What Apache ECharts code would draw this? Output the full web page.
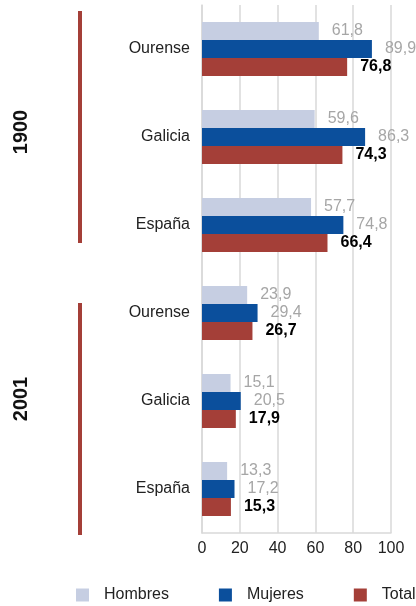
<!DOCTYPE html>
<html>
<head>
<meta charset="utf-8">
<script src="https://cdn.jsdelivr.net/npm/echarts@6/dist/echarts.min.js"></script>
<style>
  html, body { margin: 0; padding: 0; background: #fff; }
  #chart { width: 416px; height: 606px; }
</style>
</head>
<body>
<div id="chart"></div>
<script>
var regions = ["Ourense", "Galicia", "España", "Ourense", "Galicia", "España"];
var years = ["1900", "2001"];
var hombres = [61.8, 59.6, 57.7, 23.9, 15.1, 13.3];
var mujeres = [89.9, 86.3, 74.8, 29.4, 20.5, 17.2];
var total = [76.8, 74.3, 66.4, 26.7, 17.9, 15.3];
var xTicks = [0, 20, 40, 60, 80, 100];

var fontFam = "'Liberation Sans', Arial, sans-serif";

function fmt(p) {
  return String(p.value).replace(".", ",");
}

function mkSeries(name, data, color, bold) {
  return {
    name: name,
    type: "bar",
    data: data,
    barWidth: 18,
    barGap: "0%",
    itemStyle: { color: color },
    label: {
      show: true,
      position: "right",
      distance: 13,
      formatter: fmt,
      color: bold ? "#000" : "#a6a6a6",
      fontWeight: bold ? "bold" : "normal",
      fontSize: 16,
      fontFamily: fontFam
    }
  };
}

var chart = echarts.init(document.getElementById("chart"));
var option = {
  animation: false,
  textStyle: { fontFamily: fontFam },
  grid: { left: 202, right: 25, top: 5, bottom: 73 },
  legend: {
    left: 76,
    top: 587,
    width: 500,
    padding: 0,
    orient: "horizontal",
    itemWidth: 13,
    itemHeight: 13,
    itemGap: 50,
    icon: "rect",
    textStyle: { fontSize: 16, color: "#222", padding: [0, 0, 0, 10], fontFamily: fontFam },
    data: ["Hombres", "Mujeres", "Total"]
  },
  xAxis: {
    type: "value",
    min: xTicks[0],
    max: xTicks[xTicks.length - 1],
    interval: xTicks[1] - xTicks[0],
    axisLine: { show: true, lineStyle: { color: "#d9d9d9", width: 1.5 } },
    axisTick: { show: false },
    axisLabel: { color: "#222", fontSize: 16, margin: 8, fontFamily: fontFam },
    splitLine: { show: true, lineStyle: { color: "#d9d9d9", width: 1.5 } }
  },
  yAxis: {
    type: "category",
    inverse: true,
    data: regions,
    axisLine: { show: true, lineStyle: { color: "#d9d9d9", width: 1.5 } },
    axisTick: { show: false },
    axisLabel: { color: "#222", fontSize: 16, margin: 12, fontFamily: fontFam }
  },
  series: [
    mkSeries("Hombres", hombres, "#c6cee2", false),
    mkSeries("Mujeres", mujeres, "#0b4f9c", false),
    mkSeries("Total", total, "#a43f38", true)
  ],
  graphic: [
    { type: "rect", shape: { x: 78, y: 11, width: 4, height: 232 }, style: { fill: "#a43f38" } },
    { type: "rect", shape: { x: 78, y: 303, width: 4, height: 232 }, style: { fill: "#a43f38" } },
    {
      type: "text", x: 21, y: 132, rotation: Math.PI / 2,
      style: { text: years[0], font: "bold 20px 'Liberation Sans', Arial, sans-serif", fill: "#111", align: "center", verticalAlign: "middle" }
    },
    {
      type: "text", x: 21, y: 399, rotation: Math.PI / 2,
      style: { text: years[1], font: "bold 20px 'Liberation Sans', Arial, sans-serif", fill: "#111", align: "center", verticalAlign: "middle" }
    }
  ]
};
chart.setOption(option);
</script>
</body>
</html>
